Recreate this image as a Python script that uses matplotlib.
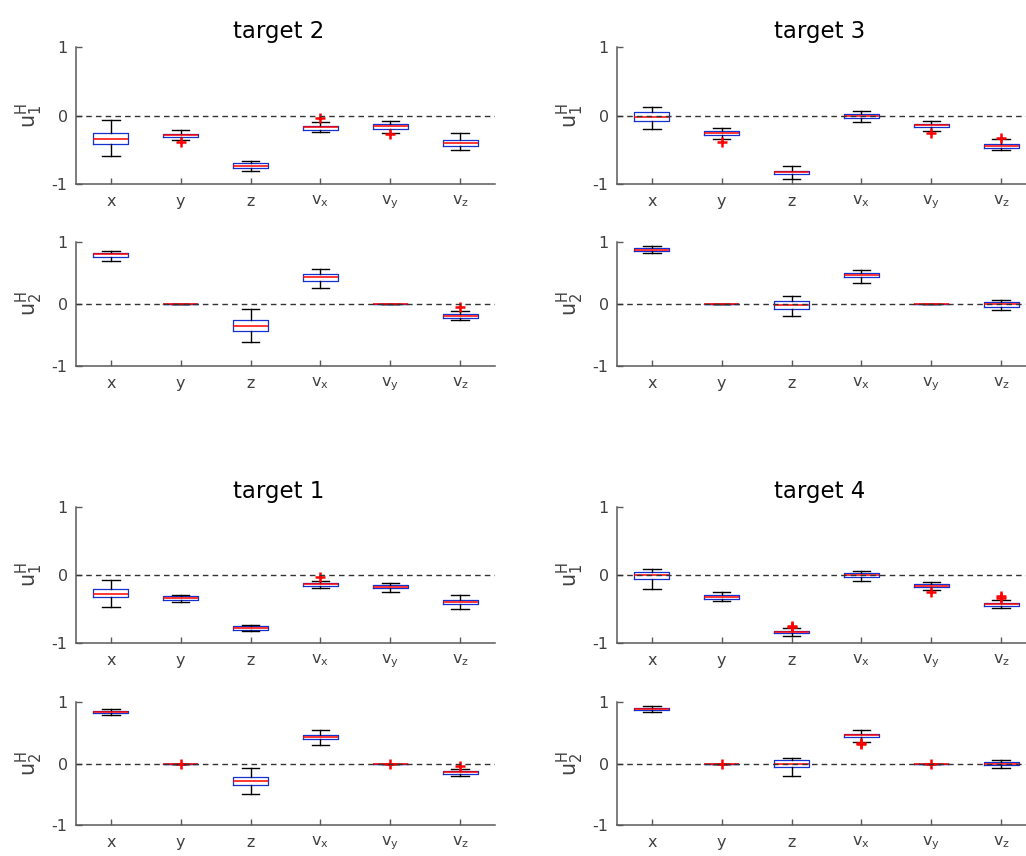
import matplotlib
matplotlib.use("Agg")
import matplotlib.pyplot as plt

plt.rcParams["font.family"] = ["DejaVu Sans"]
plt.rcParams["axes.unicode_minus"] = False
plt.rcParams["mathtext.fontset"] = "dejavusans"

# Categories (state components) shown on every x axis
categories = ["x", "y", "z", "v_x", "v_y", "v_z"]
tick_labels = ["x", "y", "z",
               r"$\mathregular{v_x}$", r"$\mathregular{v_y}$", r"$\mathregular{v_z}$"]
y_ticks = [-1, 0, 1]
y_tick_labels = ["-1", "0", "1"]

# ---- target 2 -------------------------------------------------------------
t2_u1_lo  = [-0.59, -0.36, -0.81, -0.245, -0.25, -0.50]
t2_u1_q1  = [-0.42, -0.32, -0.77, -0.21, -0.19, -0.44]
t2_u1_med = [-0.34, -0.29, -0.73, -0.17, -0.16, -0.40]
t2_u1_q3  = [-0.25, -0.27, -0.70, -0.15, -0.13, -0.36]
t2_u1_hi  = [-0.07, -0.21, -0.67, -0.10, -0.076, -0.255]
t2_u1_out = [[], [-0.39], [], [-0.03], [-0.275], []]

t2_u2_lo  = [0.70, 0.0, -0.62, 0.26, 0.0, -0.26]
t2_u2_q1  = [0.76, 0.0, -0.43, 0.376, 0.0, -0.226]
t2_u2_med = [0.80, 0.0, -0.36, 0.435, 0.0, -0.19]
t2_u2_q3  = [0.83, 0.0, -0.26, 0.48, 0.0, -0.156]
t2_u2_hi  = [0.86, 0.0, -0.075, 0.565, 0.0, -0.11]
t2_u2_out = [[], [], [], [], [], [-0.048]]

# ---- target 3 -------------------------------------------------------------
t3_u1_lo  = [-0.19, -0.345, -0.92, -0.097, -0.228, -0.505]
t3_u1_q1  = [-0.078, -0.29, -0.86, -0.04, -0.17, -0.48]
t3_u1_med = [-0.015, -0.257, -0.83, -0.005, -0.14, -0.447]
t3_u1_q3  = [0.044, -0.23, -0.806, 0.024, -0.117, -0.417]
t3_u1_hi  = [0.12, -0.18, -0.74, 0.063, -0.073, -0.345]
t3_u1_out = [[], [-0.39], [], [], [-0.257], [-0.335]]

t3_u2_lo  = [0.83, 0.0, -0.20, 0.344, 0.0, -0.097]
t3_u2_q1  = [0.85, 0.0, -0.08, 0.435, 0.0, -0.048]
t3_u2_med = [0.876, 0.0, -0.01, 0.468, 0.0, -0.005]
t3_u2_q3  = [0.898, 0.0, 0.043, 0.505, 0.0, 0.027]
t3_u2_hi  = [0.935, 0.0, 0.13, 0.543, 0.0, 0.065]
t3_u2_out = [[], [], [], [], [], []]

# ---- target 1 -------------------------------------------------------------
t1_u1_lo  = [-0.47, -0.40, -0.826, -0.19, -0.245, -0.494]
t1_u1_q1  = [-0.33, -0.367, -0.807, -0.16, -0.195, -0.43]
t1_u1_med = [-0.274, -0.337, -0.78, -0.137, -0.17, -0.396]
t1_u1_q3  = [-0.205, -0.313, -0.753, -0.112, -0.15, -0.367]
t1_u1_hi  = [-0.073, -0.29, -0.73, -0.093, -0.112, -0.293]
t1_u1_out = [[], [], [], [-0.034], [], []]

t1_u2_lo  = [0.795, 0.0, -0.49, 0.303, 0.0, -0.20]
t1_u2_q1  = [0.816, 0.0, -0.357, 0.395, 0.0, -0.173]
t1_u2_med = [0.838, 0.0, -0.286, 0.432, 0.0, -0.146]
t1_u2_q3  = [0.86, 0.0, -0.216, 0.47, 0.0, -0.124]
t1_u2_hi  = [0.88, 0.0, -0.076, 0.546, 0.0, -0.097]
t1_u2_out = [[], [0.0], [], [], [0.0], [-0.043]]

# ---- target 4 -------------------------------------------------------------
t4_u1_lo  = [-0.206, -0.382, -0.90, -0.083, -0.22, -0.49]
t4_u1_q1  = [-0.06, -0.348, -0.858, -0.03, -0.18, -0.45]
t4_u1_med = [-0.005, -0.32, -0.838, 0.0, -0.157, -0.426]
t4_u1_q3  = [0.04, -0.30, -0.82, 0.025, -0.137, -0.407]
t4_u1_hi  = [0.088, -0.255, -0.784, 0.054, -0.098, -0.367]
t4_u1_out = [[], [], [-0.745, -0.765], [], [-0.245], [-0.314, -0.338]]

t4_u2_lo  = [0.83, 0.0, -0.21, 0.355, 0.0, -0.08]
t4_u2_q1  = [0.862, 0.0, -0.06, 0.426, 0.0, -0.03]
t4_u2_med = [0.884, 0.0, 0.0, 0.458, 0.0, 0.0]
t4_u2_q3  = [0.90, 0.0, 0.05, 0.485, 0.0, 0.027]
t4_u2_hi  = [0.938, 0.0, 0.097, 0.54, 0.0, 0.06]
t4_u2_out = [[], [0.0], [], [0.34, 0.315], [0.0], []]

panels = [
    ("target 2", 0, 0,
     (t2_u1_lo, t2_u1_q1, t2_u1_med, t2_u1_q3, t2_u1_hi, t2_u1_out),
     (t2_u2_lo, t2_u2_q1, t2_u2_med, t2_u2_q3, t2_u2_hi, t2_u2_out)),
    ("target 3", 1, 0,
     (t3_u1_lo, t3_u1_q1, t3_u1_med, t3_u1_q3, t3_u1_hi, t3_u1_out),
     (t3_u2_lo, t3_u2_q1, t3_u2_med, t3_u2_q3, t3_u2_hi, t3_u2_out)),
    ("target 1", 0, 1,
     (t1_u1_lo, t1_u1_q1, t1_u1_med, t1_u1_q3, t1_u1_hi, t1_u1_out),
     (t1_u2_lo, t1_u2_q1, t1_u2_med, t1_u2_q3, t1_u2_hi, t1_u2_out)),
    ("target 4", 1, 1,
     (t4_u1_lo, t4_u1_q1, t4_u1_med, t4_u1_q3, t4_u1_hi, t4_u1_out),
     (t4_u2_lo, t4_u2_q1, t4_u2_med, t4_u2_q3, t4_u2_hi, t4_u2_out)),
]

W, H = 1026, 856
fig = plt.figure(figsize=(W / 100, H / 100), dpi=100)

col_left_px = [76, 617]
ax_w_px = 419
# (top, bottom) pixel rows of the u1 and u2 axes in each panel row
row_px = [((47, 184), (242, 366)), ((507, 643), (702, 825))]

AX_COLOR = "#5a5a5a"
TXT_COLOR = "#404040"


def make_axes(left_px, top_px, bot_px):
    return fig.add_axes([left_px / W, 1 - bot_px / H,
                         ax_w_px / W, (bot_px - top_px) / H])


def draw_box_axes(ax, series, ylabel):
    lo, q1, med, q3, hi, out = series
    stats = []
    for i, name in enumerate(categories):
        stats.append(dict(label=name, whislo=lo[i], q1=q1[i], med=med[i],
                          q3=q3[i], whishi=hi[i], fliers=out[i]))
    ax.bxp(stats, positions=range(1, len(categories) + 1), widths=0.5,
           capwidths=0.25, showfliers=True,
           boxprops=dict(color="#1530d0", linewidth=0.9),
           medianprops=dict(color="#ff0000", linewidth=1.1),
           whiskerprops=dict(color="black", linewidth=1.0, linestyle="-"),
           capprops=dict(color="black", linewidth=1.0),
           flierprops=dict(marker="+", markeredgecolor="#ff0000",
                           markersize=7, markeredgewidth=1.8,
                           linestyle="none"))
    ax.axhline(0, color="#333333", linewidth=1.0,
               linestyle=(0, (4, 3)), zorder=5)
    ax.set_xlim(0.5, len(categories) + 0.5)
    ax.set_ylim(-1, 1)
    ax.set_yticks(y_ticks)
    ax.set_yticklabels(y_tick_labels)
    ax.set_xticks(range(1, len(categories) + 1))
    ax.set_xticklabels(tick_labels)
    for s in ("top", "right"):
        ax.spines[s].set_visible(False)
    for s in ("left", "bottom"):
        ax.spines[s].set_color(AX_COLOR)
        ax.spines[s].set_linewidth(1.1)
    ax.tick_params(direction="in", length=4, width=1.0, color=AX_COLOR,
                   labelcolor=TXT_COLOR, labelsize=11.5)
    ax.tick_params(axis="x", pad=7)
    ax.tick_params(axis="y", pad=6)
    ax.set_ylabel(ylabel, fontsize=15, color=TXT_COLOR, va="center")
    ax.yaxis.set_label_coords(-0.112, 0.5)


for title, col, row, u1, u2 in panels:
    (t1p, b1p), (t2p, b2p) = row_px[row]
    ax1 = make_axes(col_left_px[col], t1p, b1p)
    draw_box_axes(ax1, u1, r"$\mathregular{u^H_1}$")
    ax1.set_title(title, fontsize=16.5, color="black", pad=6.5, x=0.483)
    ax2 = make_axes(col_left_px[col], t2p, b2p)
    draw_box_axes(ax2, u2, r"$\mathregular{u^H_2}$")

fig.savefig("out.png", dpi=100)
